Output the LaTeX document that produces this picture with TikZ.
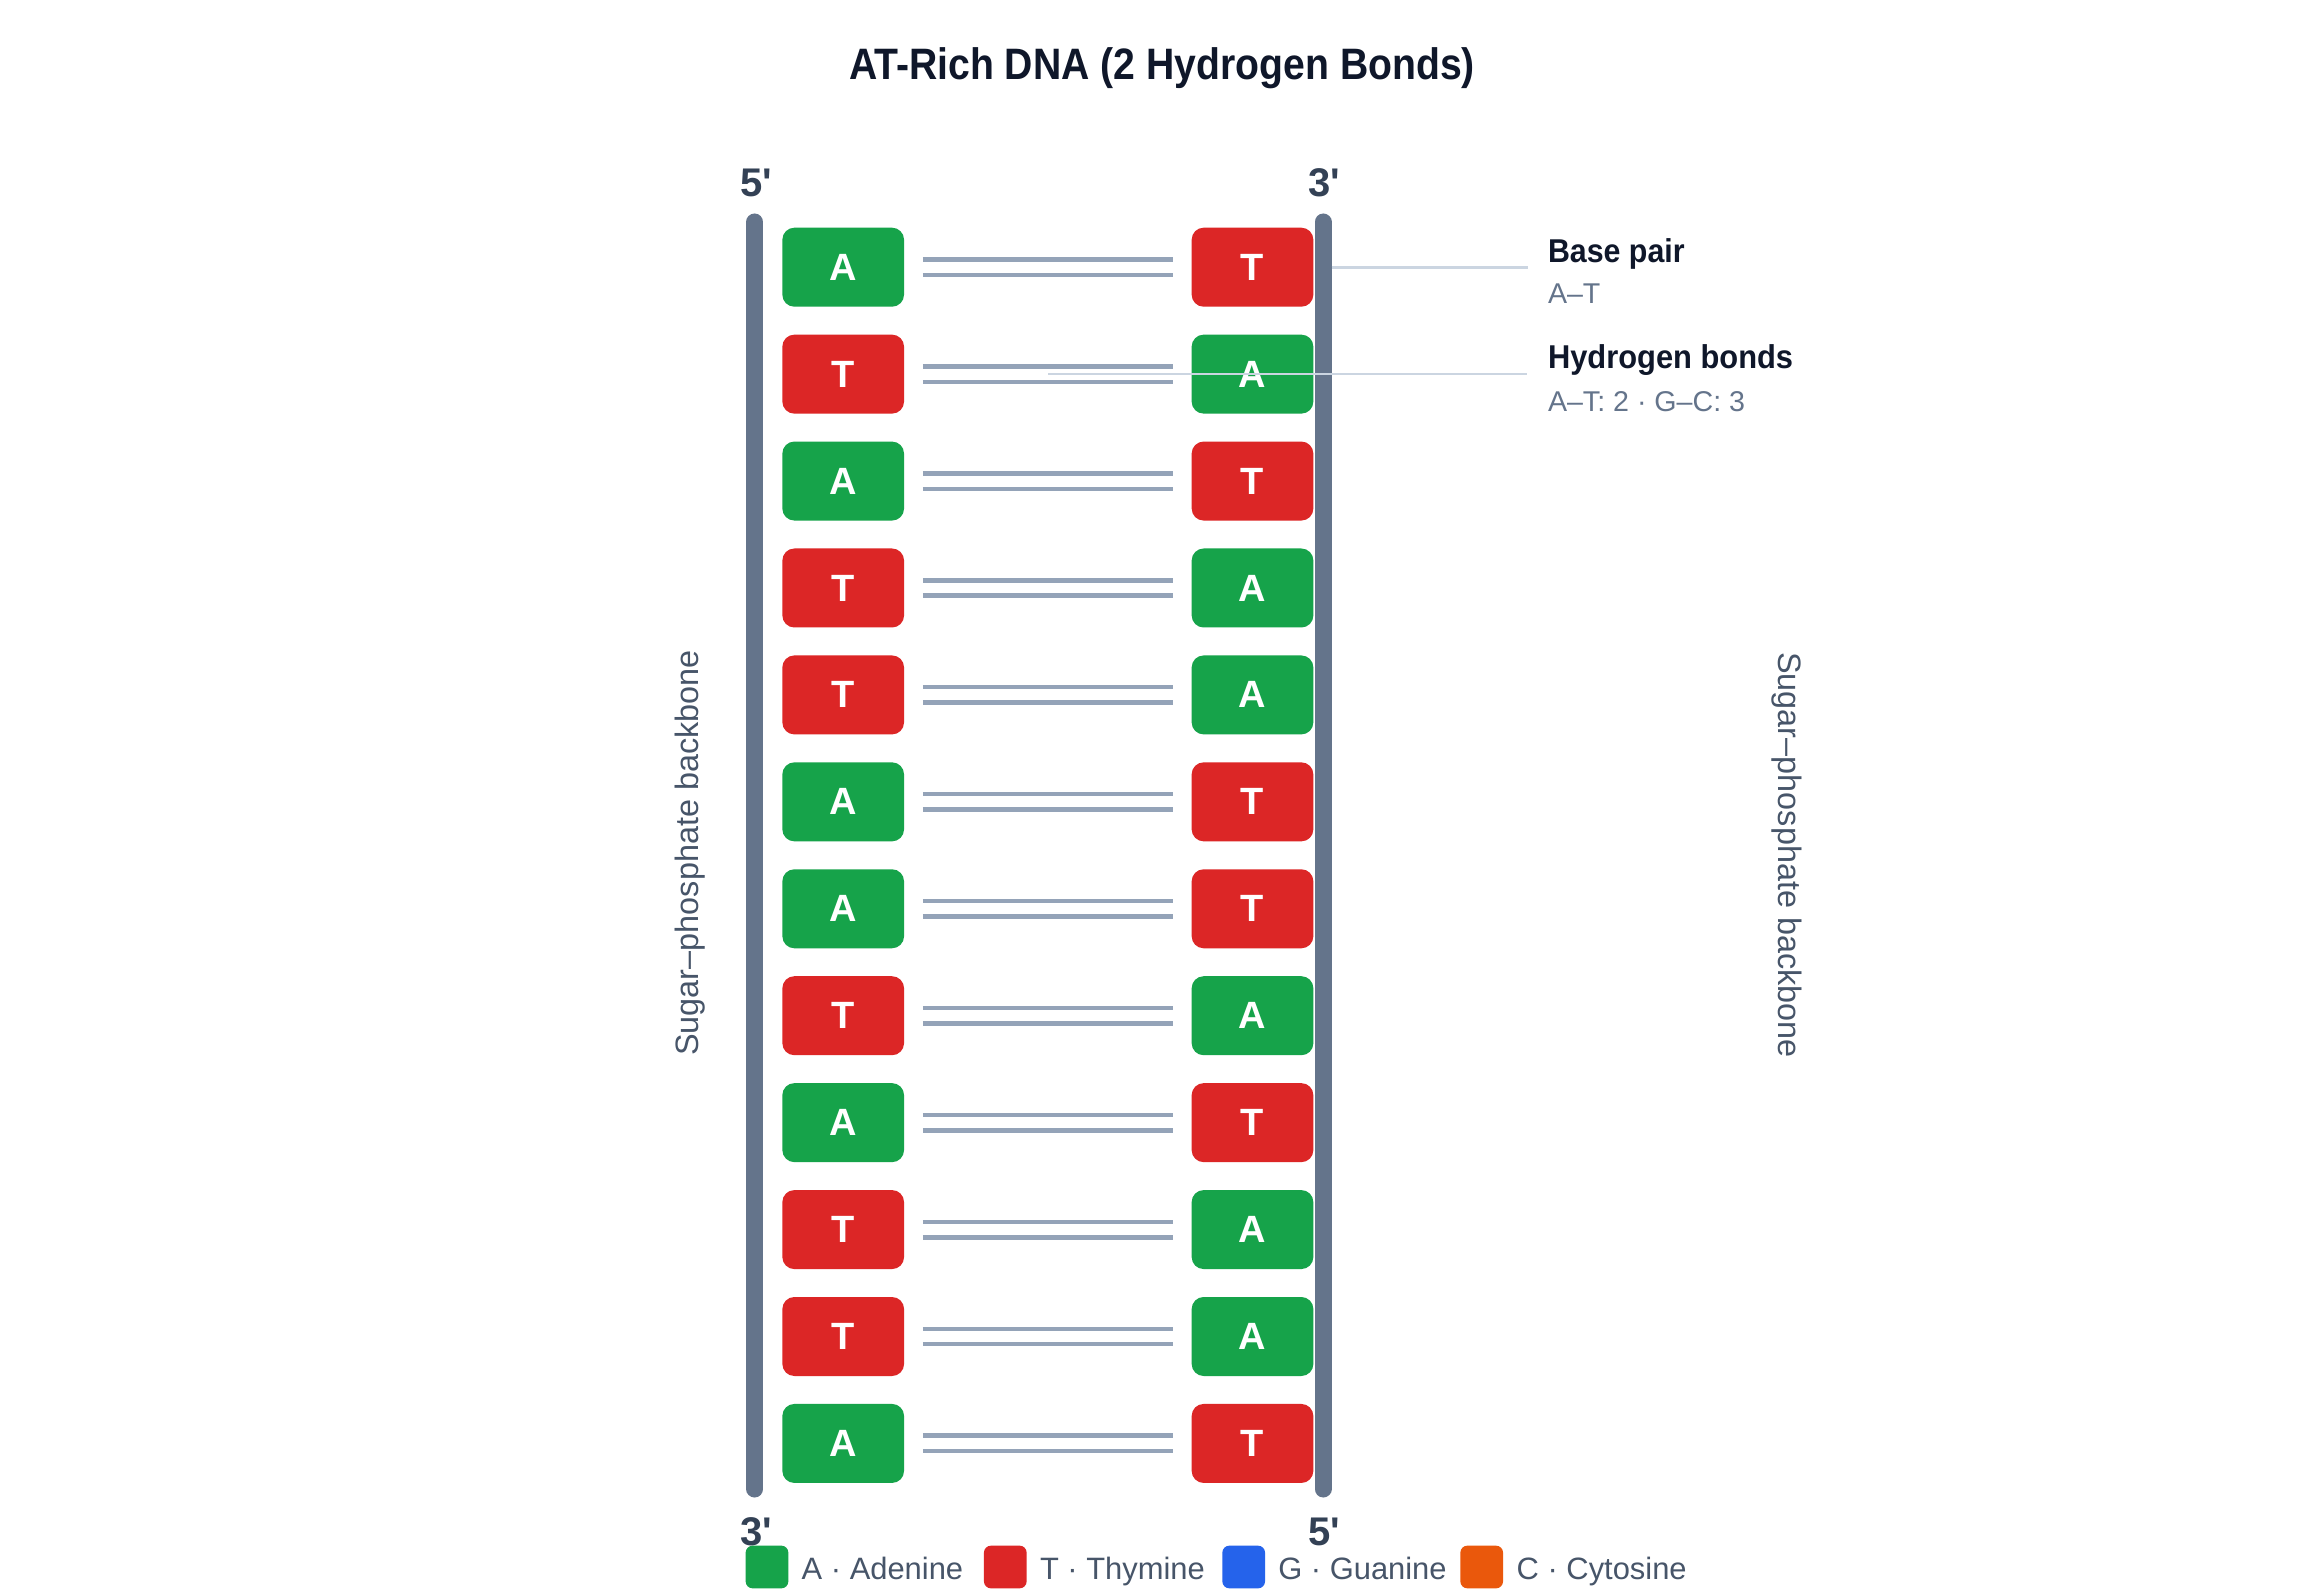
\documentclass[tikz,border=0pt]{standalone}
\usepackage{fontspec}
\usepackage{graphicx}
\newfontfamily\libfont{Liberation Sans}
\newcommand\fsz[1]{\fontsize{#1}{#1}\selectfont}
\definecolor{cA}{HTML}{16A34A}
\definecolor{cT}{HTML}{DC2626}
\definecolor{cG}{HTML}{2563EB}
\definecolor{cC}{HTML}{EA580C}
\definecolor{cTitle}{HTML}{0F172A}
\definecolor{cPrime}{HTML}{334155}
\definecolor{cSub}{HTML}{64748B}
\definecolor{cSide}{HTML}{475569}
\definecolor{cBack}{HTML}{64748B}
\definecolor{cBond}{HTML}{94A3B8}
\definecolor{cAnnot}{HTML}{CBD5E1}
\tikzset{
  txt/.style={inner sep=0pt, outer sep=0pt},
  basebox/.style={rounded corners=12pt, minimum width=121.7pt, minimum height=79pt, inner sep=0pt, text=white, font=\libfont\fsz{38}\bfseries},
  bond/.style={draw=cBond, line width=4.5pt},
  backbone/.style={draw=cBack, line width=17pt, line cap=round},
  annot/.style={draw=cAnnot, line width=2.7pt},
  primelbl/.style={txt, anchor=base, text=cPrime, font=\libfont\fsz{40}\bfseries},
  sidelbl/.style={txt, anchor=base, text=cSide, font=\libfont\fsz{32.4}},
  headlbl/.style={txt, anchor=base west, text=cTitle, font=\libfont\fsz{33}\bfseries},
  sublbl/.style={txt, anchor=base west, text=cSub, font=\libfont\fsz{28.6}},
  legsq/.style={rounded corners=7pt, minimum width=42.7pt, minimum height=42.7pt, inner sep=0pt},
  legtxt/.style={txt, anchor=base west, text=cSide, font=\libfont\fsz{30.9}}
}
\begin{document}
\begin{tikzpicture}[x=1pt, y=-1pt, font=\libfont]
\fill[white] (0,0) rectangle (2322,1589);
\useasboundingbox (0,0) rectangle (2322,1589);

% title
\node[txt, anchor=base, text=cTitle, font=\libfont\fsz{44}\bfseries] (title) at (1162,80) {\scalebox{0.89}[1]{AT-Rich DNA (2 Hydrogen Bonds)}};

% backbones
\coordinate (bbLt) at (754.7,222);
\coordinate (bbLb) at (754.7,1489);
\coordinate (bbRt) at (1323,222);
\coordinate (bbRb) at (1323,1489);
\draw[backbone] (bbLt) -- (bbLb);
\draw[backbone] (bbRt) -- (bbRb);

% base pairs
\foreach \l/\r [count=\i from 0] in {A/T,T/A,A/T,T/A,T/A,A/T,A/T,T/A,A/T,T/A,T/A,A/T}{
  \pgfmathsetmacro\yy{267.2+\i*106.93}
  \node[basebox, fill=c\l] (L\i) at (843.2,\yy) {\l};
  \node[basebox, fill=c\r] (R\i) at (1252.5,\yy) {\r};
  \draw[bond] ([xshift=18.7pt,yshift=7.7pt]L\i.east) -- ([xshift=-18.4pt,yshift=7.7pt]R\i.west);
  \draw[bond] ([xshift=18.7pt,yshift=-7.7pt]L\i.east) -- ([xshift=-18.4pt,yshift=-7.7pt]R\i.west);
}

% strand end labels
\node[primelbl] (p5t) at (756,197) {5'};
\node[primelbl] (p3t) at (1324,197) {3'};
\node[primelbl] (p3b) at (756,1545) {3'};
\node[primelbl] (p5b) at (1324.5,1545) {5'};

% side labels
\node[sidelbl, rotate=90] (sideL) at (698,853) {Sugar–phosphate backbone};
\node[sidelbl, rotate=-90] (sideR) at (1778,855) {Sugar–phosphate backbone};

% annotations
\node[headlbl] (bp) at (1548,262.7) {\scalebox{0.92}[1]{Base pair}};
\node[sublbl] (bpsub) at (1548,304) {A–T};
\node[headlbl] (hb) at (1548,368.3) {\scalebox{0.935}[1]{Hydrogen bonds}};
\node[sublbl] (hbsub) at (1548,411) {A–T: 2 · G–C: 3};
\coordinate (an1s) at (1331.7,267.2);
\coordinate (an2s) at (1048.3,374.1);
\draw[annot] (an1s) -- ([xshift=-20.3pt]bp.west |- an1s);
\draw[annot] (an2s) -- ([xshift=-20.7pt]hb.west |- an2s);

% legend
\node[legsq, fill=cA] (sqA) at (767,1567) {};
\node[legtxt] (lgA) at (801.7,1579.3) {A · Adenine};
\node[legsq, fill=cT] (sqT) at (1005.3,1567) {};
\node[legtxt] (lgT) at (1040,1579.3) {T · Thymine};
\node[legsq, fill=cG] (sqG) at (1243.7,1567) {};
\node[legtxt] (lgG) at (1278.3,1579.3) {G · Guanine};
\node[legsq, fill=cC] (sqC) at (1481.7,1567) {};
\node[legtxt] (lgC) at (1516.7,1579.3) {C · Cytosine};
\end{tikzpicture}
\end{document}
